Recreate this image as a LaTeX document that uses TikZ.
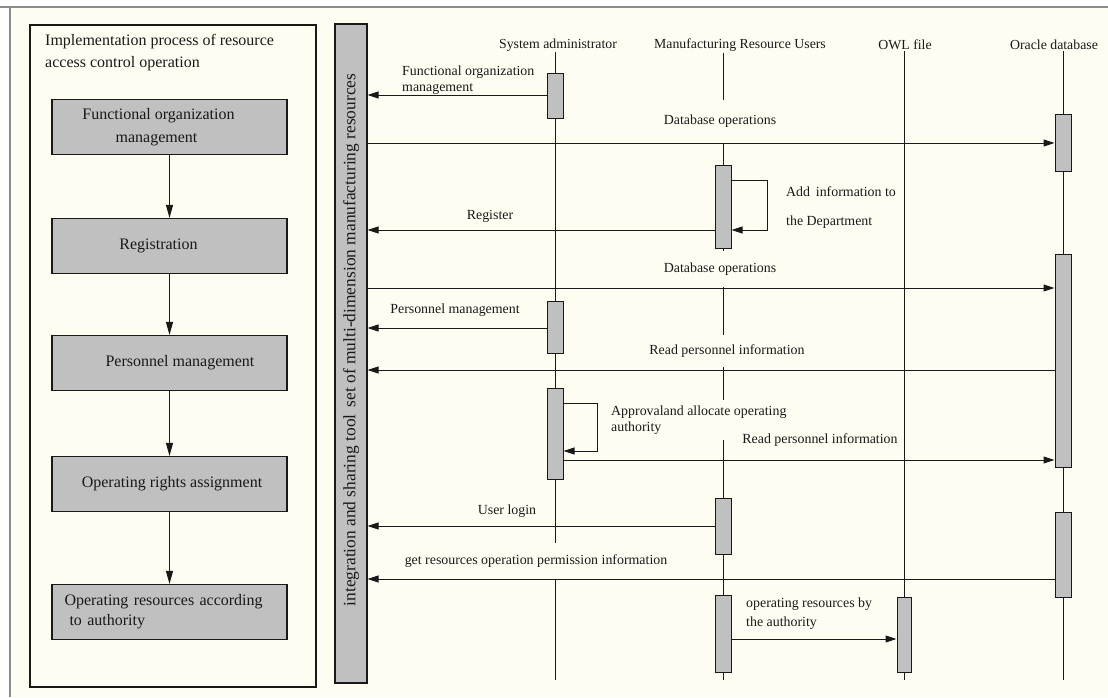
\documentclass[tikz,border=0pt]{standalone}
\usepackage{fontspec}
\setmainfont{Liberation Serif}
\usetikzlibrary{arrows.meta,calc}
\definecolor{paper}{RGB}{255,253,242}
\definecolor{barfill}{RGB}{192,192,192}
\definecolor{ink}{RGB}{25,25,25}
\definecolor{frame}{RGB}{140,140,140}

\begin{document}
\begin{tikzpicture}[x=1pt,y=-1pt,
  act/.style={draw=ink, fill=barfill, minimum width=16pt, inner sep=0pt, line width=1pt},
  stepbox/.style={draw=ink, fill=barfill, minimum width=235pt, minimum height=55pt,
    inner sep=0pt, line width=1.1pt, font=\fontsize{16}{23}\selectfont, text=ink, align=center},
  flow/.style={draw=ink, line width=1pt, -{Triangle[length=13pt,width=7pt]}},
  msg/.style={draw=ink, line width=1pt, -{Triangle[length=11pt,width=7pt]}},
  lifeline/.style={draw=ink, line width=1pt},
  head/.style={font=\fontsize{13.8}{15}\selectfont, text=ink, inner sep=1pt, anchor=center},
  lbl/.style={font=\fontsize{13.9}{17}\selectfont, text=ink, inner sep=1pt},
  cover/.style={fill=paper, inner xsep=2pt}
]
% canvas
\useasboundingbox (0,0) rectangle (1108,697);
\fill[white] (0,0) rectangle (1108,697);
\fill[paper] (10,7) rectangle (1108,697);
\draw[frame, line width=1.2pt] (0,7) -- (1108,7);
\draw[frame, line width=1.2pt] (10,7) -- (10,697);

% ---------- left panel: process steps ----------
\node[draw=ink, fill=paper, line width=1.1pt, minimum width=286pt, minimum height=662pt,
  inner sep=0pt] (panel) at (173,356) {};
\node[anchor=north west, align=left, font=\fontsize{16}{22}\selectfont, text=ink, inner sep=0pt]
  (ptitle) at (45,34) {Implementation process of resource\\access control operation};

\node[stepbox] (s1) at (169.5,127) {\hspace*{-22pt}Functional organization\\\hspace*{-26pt}management};
\node[stepbox] (s2) at (169.5,246) {\hspace*{-22pt}Registration};
\node[stepbox] (s3) at (169.5,363) {\hspace*{21pt}Personnel management};
\node[stepbox] (s4) at (169.5,484) {\hspace*{5pt}Operating rights assignment};
\node[stepbox, text width=220pt, align=left, font=\fontsize{16}{20}\selectfont] (s5) at (169.5,612)
  {\hspace*{5pt}Operating resources according\\\hspace*{10pt}to authority};

\draw[flow] (s1) -- (s2);
\draw[flow] (s2) -- (s3);
\draw[flow] (s3) -- (s4);
\draw[flow] (s4) -- (s5);

% ---------- tool bar ----------
\node[draw=ink, fill=barfill, line width=1.1pt, minimum width=32pt, minimum height=659pt,
  inner sep=0pt] (tool) at (351,353.5) {};
\node[rotate=90, font=\fontsize{17.4}{19}\selectfont, text=ink] (tooltxt) at (351,340)
  {integration and sharing tool\, set of multi-dimension manufacturing resources};

% ---------- participants ----------
\node[head] (sa)  at (558,45)  {System administrator};
\node[head] (mru) at (740,45)  {Manufacturing Resource Users};
\node[head] (owl) at (905,45)  {OWL file};
\node[head] (ora) at (1054,45) {Oracle database};

\draw[lifeline] (555,0 |- sa.south)  -- (555,680);
\draw[lifeline] (723,0 |- mru.south) -- (723,680);
\draw[lifeline] (904,0 |- owl.south) -- (904,680);
\draw[lifeline] (1063,0 |- ora.south) -- (1063,680);

% ---------- message labels (their backing hides the lifelines beneath) ----------
\node[lbl, anchor=west, align=left] (m1) at (401,80) {Functional organization\\[-1pt]management};
\node[lbl, cover, inner ysep=15pt] (m2) at (720,121.5) {Database operations};
\node[lbl, anchor=west, align=left] (m3) at (785,208) {Add\, information to\\[12pt]the Department};
\node[lbl] (m4) at (490,216) {Register};
\node[lbl, cover, inner ysep=12pt] (m5) at (720,269) {Database operations};
\node[lbl] (m6) at (455,310) {Personnel management};
\node[lbl, cover, inner ysep=10pt] (m7) at (727,351) {Read personnel information};
\node[lbl, cover, anchor=west, align=left, inner ysep=6pt] (m8) at (609,420)
  {Approvaland allocate operating\\[-1pt]authority};
\node[lbl] (m9) at (820,440) {Read personnel information};
\node[lbl] (m10) at (507,511) {User login};
\node[lbl, cover, inner ysep=12pt] (m11) at (536,561) {get resources operation permission information};
\node[lbl, anchor=west, align=left] (m12) at (745,614) {operating resources by\\[2pt]the authority};

% ---------- activation bars ----------
\node[act, minimum height=45pt]  (sa1)  at (555,95.5)  {};
\node[act, minimum height=52pt]  (sa2)  at (555,327)   {};
\node[act, minimum height=91pt]  (sa3)  at (555,433.5) {};
\node[act, minimum height=83pt]  (mru1) at (723,206.5) {};
\node[act, minimum height=56pt]  (mru2) at (723,526)   {};
\node[act, minimum height=77pt]  (mru3) at (723,633.5) {};
\node[act, minimum width=14pt, minimum height=75pt] (owl1) at (904,634.5) {};
\node[act, minimum height=57pt]  (ora1) at (1063,142.5) {};
\node[act, minimum height=213pt] (ora2) at (1063,360.5) {};
\node[act, minimum height=85pt]  (ora3) at (1063,554.5) {};

% ---------- messages ----------
\draw[msg] (sa1.west |- 0,95)   -- (tool.east |- 0,95);
\draw[msg] (tool.east |- 0,143) -- (ora1.west |- 0,143);
\draw[msg] (mru1.east |- 0,180) -- ++(36,0) |- (mru1.east |- 0,230);
\draw[msg] (mru1.west |- 0,230) -- (tool.east |- 0,230);
\draw[msg] (tool.east |- 0,288) -- (ora2.west |- 0,288);
\draw[msg] (sa2.west |- 0,328)  -- (tool.east |- 0,328);
\draw[msg] (ora2.west |- 0,370) -- (tool.east |- 0,370);
\draw[msg] (sa3.east |- 0,403)  -- ++(34,0) |- (sa3.east |- 0,451);
\draw[msg] (sa3.east |- 0,460)  -- (ora2.west |- 0,460);
\draw[msg] (mru2.west |- 0,526) -- (tool.east |- 0,526);
\draw[msg] (ora3.west |- 0,579) -- (tool.east |- 0,579);
\draw[msg] (mru3.east |- 0,639) -- (owl1.west |- 0,639);
\end{tikzpicture}
\end{document}
